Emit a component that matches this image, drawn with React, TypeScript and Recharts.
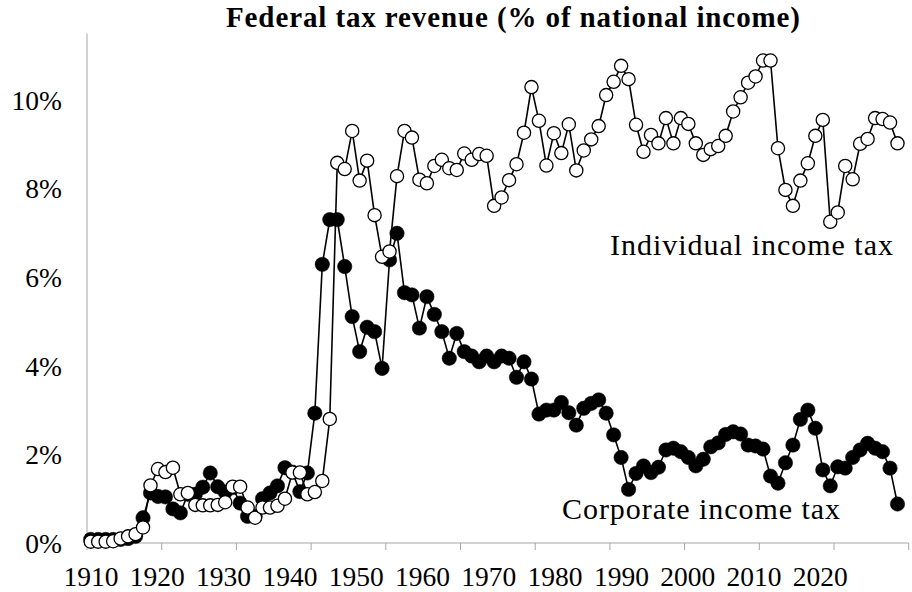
import { Line, LineChart, XAxis, YAxis } from "recharts";

const FONT = '"Liberation Serif", "Times New Roman", serif';

const firstYear = 1910;

// % of national income, 1910-2018
const individualTax = [
  0.03, 0.03, 0.03, 0.04, 0.1, 0.15, 0.2, 0.35, 1.3, 1.67,
  1.6, 1.7, 1.1, 1.13, 0.86, 0.85, 0.85, 0.86, 0.92, 1.27,
  1.27, 0.8, 0.57, 0.8, 0.8, 0.84, 1.0, 1.59, 1.59, 1.1,
  1.15, 1.4, 2.8, 8.58, 8.44, 9.3, 8.18, 8.63, 7.4, 6.46,
  6.58, 8.28, 9.3, 9.15, 8.2, 8.12, 8.51, 8.65, 8.46, 8.42,
  8.79, 8.65, 8.78, 8.74, 7.61, 7.8, 8.19, 8.55, 9.26, 10.29,
  9.53, 8.52, 9.25, 8.8, 9.45, 8.41, 8.86, 9.11, 9.41, 10.11,
  10.41, 10.77, 10.47, 9.44, 8.83, 9.21, 9.02, 9.59, 9.02, 9.59,
  9.46, 9.02, 8.76, 8.89, 8.96, 9.19, 9.74, 10.06, 10.39, 10.53,
  10.89, 10.89, 8.91, 7.97, 7.61, 8.18, 8.57, 9.19, 9.55, 7.25,
  7.46, 8.51, 8.21, 9.01, 9.12, 9.59, 9.57, 9.49, 9.02,
];

const corporateTax = [
  0.08, 0.08, 0.08, 0.08, 0.08, 0.1, 0.15, 0.57, 1.13, 1.05,
  1.04, 0.77, 0.68, 1.1, 1.1, 1.26, 1.58, 1.27, 1.15, 1.25,
  0.9, 0.6, 0.6, 1.0, 1.13, 1.29, 1.7, 1.6, 1.16, 1.58,
  2.93, 6.29, 7.3, 7.3, 6.24, 5.11, 4.32, 4.87, 4.77, 3.94,
  6.39, 6.99, 5.65, 5.6, 4.85, 5.56, 5.16, 4.77, 4.17, 4.73,
  4.32, 4.22, 4.09, 4.22, 4.09, 4.22, 4.17, 3.74, 4.09, 3.7,
  2.91, 3.0, 3.0, 3.17, 2.94, 2.66, 3.04, 3.15, 3.23, 2.93,
  2.44, 1.93, 1.21, 1.57, 1.74, 1.59, 1.71, 2.1, 2.14, 2.06,
  1.93, 1.74, 1.89, 2.17, 2.26, 2.45, 2.51, 2.46, 2.21, 2.19,
  2.12, 1.51, 1.35, 1.81, 2.21, 2.79, 3.0, 2.59, 1.65, 1.29,
  1.72, 1.69, 1.93, 2.1, 2.25, 2.14, 2.06, 1.69, 0.88,
];

const xTickLabels = [
  "1910", "1920", "1930", "1940", "1950", "1960",
  "1970", "1980", "1990", "2000", "2010", "2020",
];
const yTicks = [0, 2, 4, 6, 8, 10];

// tick marks sit between yearly categories
const xTicks = xTickLabels.map((_, i) => firstYear - 0.5 + i * 10);

const data = individualTax.map((v, i) => ({
  year: firstYear + i,
  individual: v,
  corporate: corporateTax[i],
}));

function YearTick(props: any) {
  const { x, payload } = props;
  const i = Math.round((payload.value - (firstYear - 0.5)) / 10);
  // labels in the original are packed slightly tighter than the ticks
  return (
    <text
      x={x + 4 - 8.4 * i}
      y={585.5}
      textAnchor="middle"
      fontFamily={FONT}
      fontSize={27.5}
      fill="#000"
    >
      {xTickLabels[i]}
    </text>
  );
}

export default function App() {
  return (
    <div
      style={{
        position: "absolute",
        left: 0,
        top: 0,
        width: 912,
        height: 592,
        background: "#fff",
      }}
    >
      <LineChart
        width={912}
        height={592}
        data={data}
        margin={{ top: 33.5, right: 3.3, left: 0, bottom: 0 }}
      >
        <XAxis
          dataKey="year"
          type="number"
          domain={[firstYear - 0.5, 2019.5]}
          ticks={xTicks}
          interval={0}
          height={49}
          tickSize={7}
          axisLine={{ stroke: "#a6a6a6" }}
          tickLine={{ stroke: "#a6a6a6" }}
          tick={<YearTick />}
        />
        <YAxis
          type="number"
          domain={[0, 11.5]}
          ticks={yTicks}
          width={87}
          tickLine={false}
          tickSize={0}
          tickMargin={25}
          axisLine={{ stroke: "#a6a6a6" }}
          tickFormatter={(v) => `${v}%`}
          tick={{ fill: "#000", fontSize: 27.5, fontFamily: FONT }}
        />
        <Line
          dataKey="corporate"
          stroke="#000"
          strokeWidth={1.6}
          dot={{ r: 7.2, fill: "#000", stroke: "#000", strokeWidth: 0.5 }}
          activeDot={false}
          isAnimationActive={false}
        />
        <Line
          dataKey="individual"
          stroke="#000"
          strokeWidth={1.6}
          dot={{ r: 6.6, fill: "#fff", stroke: "#000", strokeWidth: 1.3 }}
          activeDot={false}
          isAnimationActive={false}
        />
      </LineChart>
      <svg
        width={912}
        height={592}
        style={{ position: "absolute", left: 0, top: 0, pointerEvents: "none" }}
      >
        <text
          x={226}
          y={26.5}
          fontFamily={FONT}
          fontWeight="bold"
          fontSize={29}
          textLength={574}
          lengthAdjust="spacing"
          fill="#000"
        >
          Federal tax revenue (% of national income)
        </text>
        <text
          x={610}
          y={255}
          fontFamily={FONT}
          fontSize={30}
          textLength={283}
          lengthAdjust="spacing"
          fill="#000"
        >
          Individual income tax
        </text>
        <text
          x={562}
          y={519}
          fontFamily={FONT}
          fontSize={30}
          textLength={278}
          lengthAdjust="spacing"
          fill="#000"
        >
          Corporate income tax
        </text>
      </svg>
    </div>
  );
}
